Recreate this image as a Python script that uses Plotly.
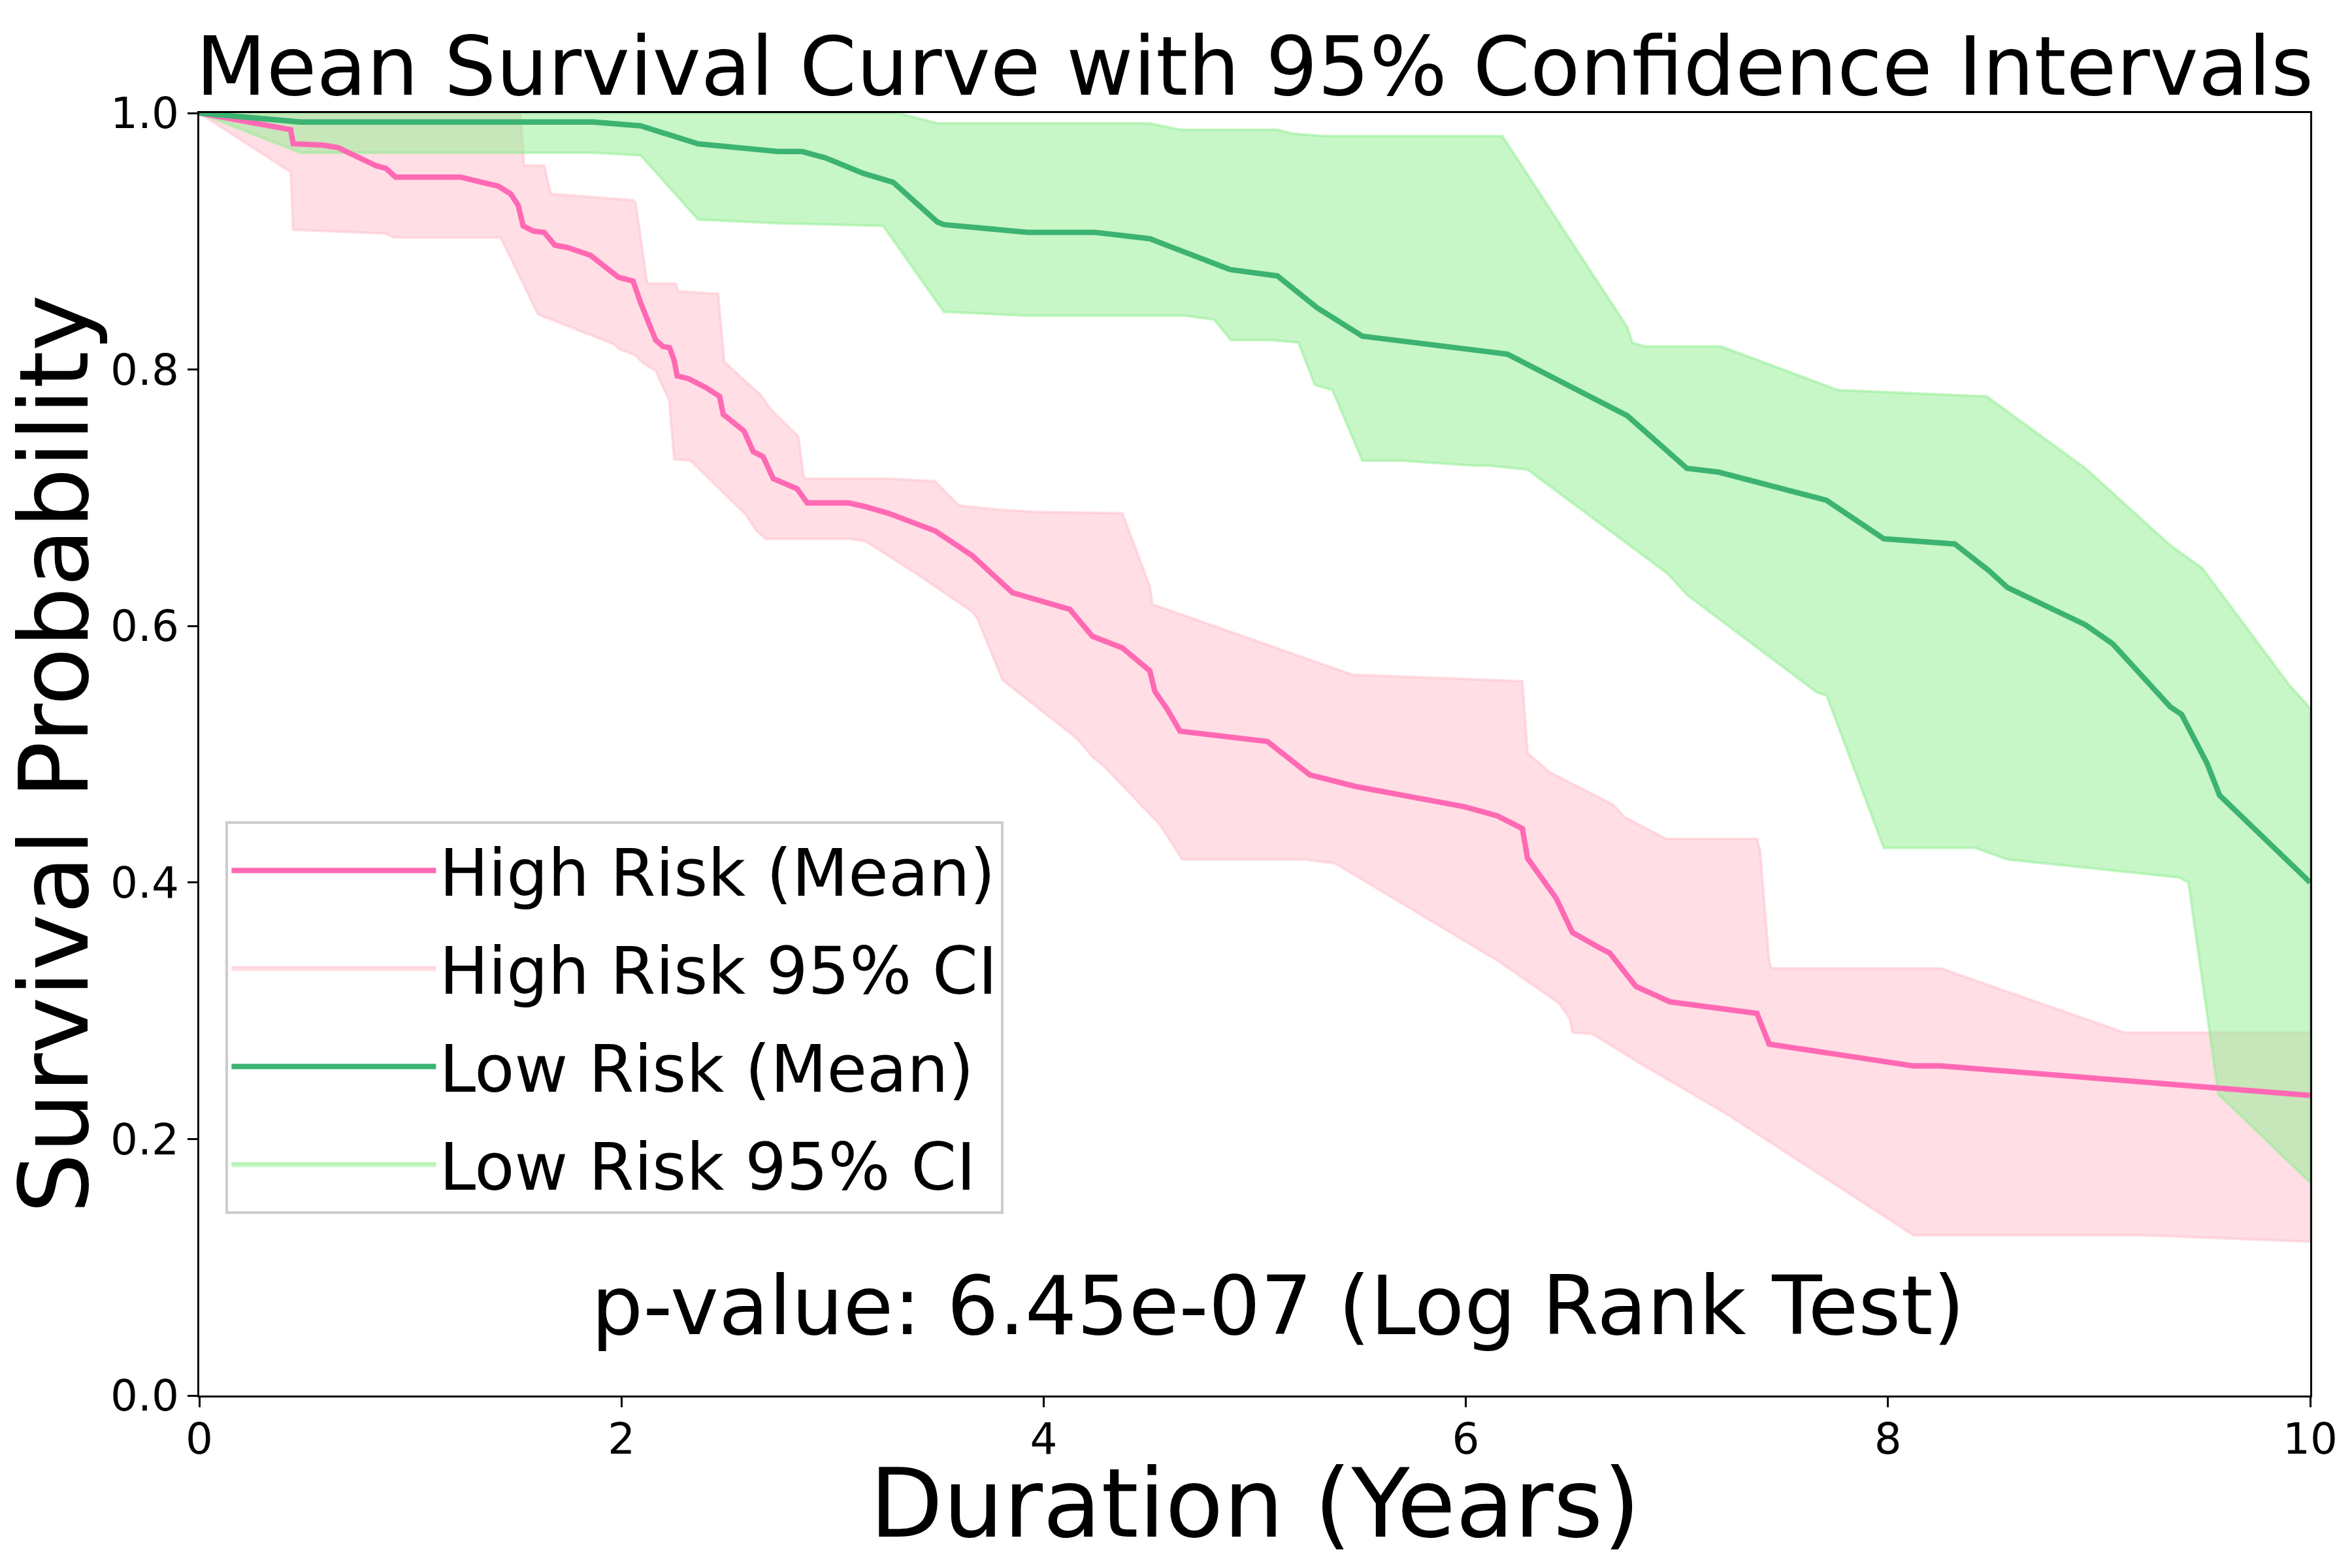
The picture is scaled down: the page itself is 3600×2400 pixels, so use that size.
import plotly.graph_objects as go

# ---- data ----
high_mean_t = [0, 0.433, 0.445, 0.587, 0.658, 0.836, 0.883, 0.930, 1.238, 1.416, 1.475, 1.511, 1.534, 1.582, 1.634,
               1.684, 1.747, 1.854, 1.985, 2.055, 2.091, 2.162, 2.197, 2.228, 2.250, 2.264, 2.316, 2.399, 2.465, 2.482,
               2.581, 2.624, 2.671, 2.719, 2.832, 2.880, 3.074, 3.157, 3.263, 3.488, 3.661, 3.852, 4.124, 4.231, 4.373,
               4.503, 4.527, 4.586, 4.646, 5.060, 5.261, 5.475, 5.996, 6.149, 6.268, 6.292, 6.427, 6.505, 6.623, 6.682,
               6.806, 6.967, 7.379, 7.437, 8.121, 8.251, 10.0]
high_mean_s = [1.0, 0.987, 0.976, 0.975, 0.973, 0.959, 0.957, 0.950, 0.950, 0.943, 0.937, 0.928, 0.912, 0.908, 0.907,
               0.897, 0.895, 0.889, 0.872, 0.869, 0.852, 0.823, 0.818, 0.817, 0.807, 0.795, 0.793, 0.786, 0.779, 0.765,
               0.752, 0.736, 0.732, 0.715, 0.707, 0.696, 0.696, 0.693, 0.688, 0.674, 0.655, 0.626, 0.613, 0.592, 0.583,
               0.565, 0.549, 0.535, 0.518, 0.510, 0.484, 0.475, 0.459, 0.452, 0.442, 0.419, 0.388, 0.361, 0.350, 0.345,
               0.319, 0.307, 0.298, 0.274, 0.257, 0.257, 0.234]

high_upper_t = [0, 1.522, 1.539, 1.634, 1.665, 2.055, 2.067, 2.122, 2.257, 2.269, 2.458, 2.477, 2.487, 2.660, 2.707,
                2.837, 2.865, 3.252, 3.485, 3.599, 3.769, 3.959, 4.373, 4.503, 4.515, 5.463, 6.268, 6.292, 6.398, 6.694,
                6.753, 6.949, 7.379, 7.394, 7.437, 7.448, 8.251, 9.120, 10.0]
high_upper_s = [1.0, 1.0, 0.959, 0.959, 0.937, 0.932, 0.930, 0.867, 0.867, 0.861, 0.859, 0.823, 0.806, 0.780, 0.769,
                0.748, 0.715, 0.715, 0.713, 0.694, 0.691, 0.689, 0.688, 0.631, 0.617, 0.562, 0.557, 0.501, 0.486, 0.461,
                0.451, 0.434, 0.434, 0.425, 0.338, 0.333, 0.333, 0.283, 0.283]

high_lower_t = [0, 0.433, 0.445, 0.883, 0.923, 1.428, 1.511, 1.605, 1.961, 1.989, 2.067, 2.103, 2.162, 2.226, 2.250,
                2.328, 2.588, 2.636, 2.683, 3.086, 3.157, 3.414, 3.663, 3.686, 3.805, 4.160, 4.231, 4.290, 4.551, 4.657,
                5.238, 5.285, 5.380, 6.161, 6.441, 6.493, 6.505, 6.600, 6.825, 7.231, 8.121, 9.207, 10.0]
high_lower_s = [1.0, 0.954, 0.909, 0.906, 0.903, 0.903, 0.875, 0.843, 0.820, 0.816, 0.811, 0.805, 0.799, 0.776, 0.730,
                0.729, 0.687, 0.675, 0.668, 0.668, 0.666, 0.639, 0.611, 0.606, 0.558, 0.512, 0.498, 0.490, 0.445, 0.418,
                0.418, 0.417, 0.415, 0.338, 0.306, 0.294, 0.283, 0.282, 0.259, 0.220, 0.125, 0.125, 0.120]

low_mean_t = [0, 0.184, 0.480, 1.866, 2.091, 2.363, 2.553, 2.742, 2.856, 2.967, 3.145, 3.192, 3.287, 3.497, 3.527,
              3.923, 4.243, 4.503, 4.882, 5.107, 5.214, 5.297, 5.510, 6.043, 6.126, 6.197, 6.765, 7.047, 7.198, 7.665,
              7.709, 7.980, 8.316, 8.479, 8.566, 8.935, 9.065, 9.337, 9.391, 9.511, 9.571, 10.0]
low_mean_s = [1.0, 0.997, 0.993, 0.993, 0.990, 0.976, 0.973, 0.970, 0.970, 0.965, 0.953, 0.951, 0.946, 0.915, 0.913,
              0.907, 0.907, 0.902, 0.878, 0.873, 0.859, 0.848, 0.826, 0.815, 0.814, 0.812, 0.764, 0.723, 0.720, 0.700,
              0.698, 0.668, 0.664, 0.643, 0.630, 0.601, 0.586, 0.537, 0.531, 0.493, 0.468, 0.400]

low_upper_t = [0, 3.311, 3.497, 4.503, 4.646, 5.107, 5.178, 5.332, 6.173, 6.765, 6.789, 6.848, 7.209, 7.763, 8.468,
               8.935, 9.337, 9.489, 9.901, 10.0]
low_upper_s = [1.0, 1.0, 0.992, 0.992, 0.987, 0.987, 0.984, 0.982, 0.982, 0.833, 0.821, 0.818, 0.818, 0.784, 0.779,
               0.723, 0.663, 0.645, 0.554, 0.536]

low_lower_t = [0, 0.480, 1.866, 2.091, 2.363, 2.742, 3.240, 3.527, 3.923, 4.669, 4.807, 4.887, 5.072, 5.207, 5.285,
               5.368, 5.510, 5.688, 6.043, 6.114, 6.292, 6.955, 7.050, 7.665, 7.709, 7.980, 8.414, 8.566, 9.380, 9.423,
               9.565, 10.0]
low_lower_s = [1.0, 0.969, 0.969, 0.967, 0.917, 0.914, 0.912, 0.845, 0.842, 0.842, 0.839, 0.823, 0.823, 0.821, 0.788,
               0.784, 0.729, 0.729, 0.725, 0.725, 0.722, 0.641, 0.624, 0.548, 0.546, 0.427, 0.427, 0.418, 0.404, 0.400,
               0.235, 0.166]

x_ticks = [0, 2, 4, 6, 8, 10]
y_ticks = [0.0, 0.2, 0.4, 0.6, 0.8, 1.0]
p_value_text = "p-value: 6.45e-07 (Log Rank Test)"

FONT = "DejaVu Sans"
PINK_LINE = "#FF69B4"
PINK_FILL = "rgba(255,192,203,0.5)"
GREEN_LINE = "#3CB371"
GREEN_FILL = "rgba(144,238,144,0.5)"

fig = go.Figure()

# CI bands (polygon: upper path then reversed lower path)
fig.add_trace(go.Scatter(
    x=high_upper_t + high_lower_t[::-1], y=high_upper_s + high_lower_s[::-1],
    fill="toself", fillcolor=PINK_FILL, mode="lines",
    line=dict(color=PINK_FILL, width=4), name="High Risk 95% CI",
    legendrank=2, legendgroup="g2", hoverinfo="skip"))
fig.add_trace(go.Scatter(
    x=low_upper_t + low_lower_t[::-1], y=low_upper_s + low_lower_s[::-1],
    fill="toself", fillcolor=GREEN_FILL, mode="lines",
    line=dict(color=GREEN_FILL, width=4), name="Low Risk 95% CI",
    legendrank=4, legendgroup="g4", hoverinfo="skip"))

# mean curves
fig.add_trace(go.Scatter(x=high_mean_t, y=high_mean_s, mode="lines",
                         line=dict(color=PINK_LINE, width=8.3), name="High Risk (Mean)",
                         legendrank=1, legendgroup="g1"))
fig.add_trace(go.Scatter(x=low_mean_t, y=low_mean_s, mode="lines",
                         line=dict(color=GREEN_LINE, width=8.3), name="Low Risk (Mean)",
                         legendrank=3, legendgroup="g3"))

fig.add_annotation(x=0.511, y=0.07, xref="paper", yref="paper", text=p_value_text,
                   showarrow=False, font=dict(family=FONT, size=125, color="black"),
                   xanchor="center", yanchor="middle")

# axis titles
fig.add_annotation(x=0.5, y=-0.084, xref="paper", yref="paper", text="Duration (Years)",
                   showarrow=False, font=dict(family=FONT, size=146, color="black"),
                   xanchor="center", yanchor="middle")
fig.add_annotation(x=-0.069, y=0.5, xref="paper", yref="paper", text="Survival Probability",
                   textangle=-90, showarrow=False, font=dict(family=FONT, size=146, color="black"),
                   xanchor="center", yanchor="middle")

axis_common = dict(showline=True, linecolor="black", linewidth=3.3, mirror=True,
                   ticks="outside", ticklen=14.6, tickwidth=3.3, tickcolor="black",
                   showgrid=False, zeroline=False,
                   tickfont=dict(family=FONT, size=66, color="black"))

fig.update_xaxes(range=[0, 10], tickvals=x_ticks, ticktext=[str(v) for v in x_ticks],
                 ticklabelstandoff=-8, **axis_common)
fig.update_yaxes(range=[0, 1], tickvals=y_ticks, ticktext=[f"{v:.1f}" for v in y_ticks],
                 **axis_common)

fig.update_layout(
    width=3600, height=2400,
    margin=dict(l=297, r=72, t=165, b=272),
    plot_bgcolor="white", paper_bgcolor="white",
    font=dict(family=FONT, color="black"),
    title=dict(text="Mean Survival Curve with 95% Confidence Intervals",
               font=dict(family=FONT, size=125, color="black"),
               x=0.5, xref="paper", xanchor="center",
               y=1 - 93 / 2400, yref="container", yanchor="middle"),
    legend=dict(x=0.0125, y=0.4478, xanchor="left", yanchor="top",
                font=dict(family=FONT, size=100, color="black"),
                bgcolor="rgba(255,255,255,0.8)", bordercolor="#cccccc", borderwidth=4,
                itemwidth=313, traceorder="grouped", tracegroupgap=17),
    showlegend=True,
)

fig.write_html("out.html")
